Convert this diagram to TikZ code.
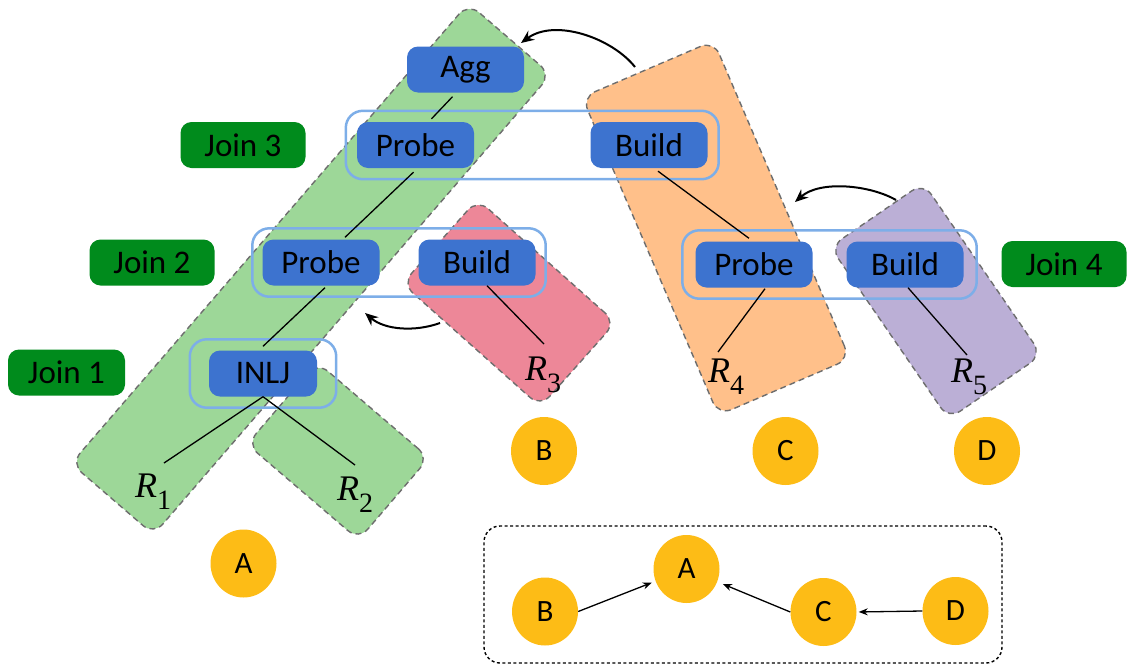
\documentclass[tikz,border=0pt]{standalone}
\usepackage{fontspec}
\setmainfont{Carlito}
\newfontfamily\relfont{Liberation Serif}
\usetikzlibrary{shapes.geometric,arrows.meta,fit,calc}
\definecolor{opblue}{RGB}{61,115,207}
\definecolor{grpline}{RGB}{125,174,232}
\definecolor{joingreen}{RGB}{0,139,28}
\definecolor{dagyellow}{RGB}{253,188,22}
\definecolor{regA}{RGB}{157,215,152}
\definecolor{regB}{RGB}{237,135,152}
\definecolor{regC}{RGB}{255,192,138}
\definecolor{regD}{RGB}{187,175,214}
\definecolor{regedge}{RGB}{110,110,110}
% relation name: italic R with a lowered upright index
\newcommand{\relname}[1]{{\relfont\itshape R}\raisebox{-12pt}{\fontsize{28}{30}\selectfont\relfont #1}}
\begin{document}
\begin{tikzpicture}[x=1pt,y=-1pt,
  region/.style={rectangle, draw=regedge, dash pattern=on 6pt off 4pt, line width=1.4pt, rounded corners=14pt, inner sep=0pt},
  op/.style={rectangle, fill=opblue, rounded corners=11pt, minimum width=117pt, minimum height=46pt, inner sep=0pt, font=\fontsize{33}{38}\selectfont},
  joinlbl/.style={rectangle, fill=joingreen, rounded corners=11pt, minimum width=125pt, minimum height=46pt, inner sep=0pt, font=\fontsize{33}{38}\selectfont},
  grp/.style={draw=grpline, line width=2.5pt, rounded corners=17pt, inner ysep=11pt},
  rel/.style={inner sep=0pt, anchor=base west, font=\fontsize{36}{42}\selectfont},
  dag/.style={ellipse, fill=dagyellow, minimum width=66pt, minimum height=68pt, inner sep=0pt, font=\fontsize{31}{36}\selectfont},
  tree/.style={line width=1.3pt},
  dep/.style={line width=2pt, -{Stealth[length=13pt,width=11pt]}},
  dagedge/.style={line width=1.3pt, -{Stealth[length=9pt,width=7pt]}}
]
\useasboundingbox (0,0) rectangle (1127,667);

% pipeline regions
\node[region, fill=regA, minimum width=147pt, minimum height=108pt, rotate=-40.6] (regA2) at (338,451) {};
\node[region, fill=regA, minimum width=608pt, minimum height=109pt, rotate=49.2] (regA1) at (311,269) {};
\node[region, fill=regB, minimum width=185pt, minimum height=113pt, rotate=-41.7] (regB) at (509,303) {};
\node[region, fill=regC, minimum width=346pt, minimum height=143pt, rotate=-66.8] (regC) at (716,228) {};
\node[region, fill=regD, minimum width=209pt, minimum height=113pt, rotate=-55.5] (regD) at (936,301) {};

% operators
\node[op] (agg) at (465.5,69.5) {Agg};
\node[op] (p3) at (415.5,145) {Probe};
\node[op] (b3) at (649,145) {Build};
\node[op] (p2) at (321,262.5) {Probe};
\node[op] (b2) at (477,262.5) {Build};
\node[op, minimum width=108pt] (inlj) at (263,373.5) {INLJ};
\node[op] (p4) at (754,264.5) {Probe};
\node[op] (b4) at (905,264.5) {Build};

% join groups
\node[grp, inner xsep=11pt, fit=(p3)(b3)] (g3) {};
\node[grp, inner xsep=10pt, fit=(p2)(b2)] (g2) {};
\node[grp, inner xsep=19pt, fit=(inlj)] (g1) {};
\node[grp, inner xsep=13pt, fit=(p4)(b4)] (g4) {};

% join labels
\node[joinlbl] (j3) at (243,145) {Join 3};
\node[joinlbl] (j2) at (152,262.5) {Join 2};
\node[joinlbl, minimum width=117pt] (j1) at (66.5,372.5) {Join 1};
\node[joinlbl] (j4) at (1064,264) {Join 4};

% relations
\node[rel] (r1) at (135,497) {\relname{1}};
\node[rel] (r2) at (337,500) {\relname{2}};
\node[rel] (r3) at (525,380) {\relname{3}};
\node[rel] (r4) at (708,382) {\relname{4}};
\node[rel] (r5) at (951,382) {\relname{5}};

% plan tree
\draw[tree] ($(agg.south)+(-13,4)$) -- ($(p3.north)+(16,-3)$);
\draw[tree] ($(p3.south)+(-2,4)$) -- ($(p2.north)+(24,-2)$);
\draw[tree] ($(p2.south)+(4,2)$) -- ($(inlj.north)+(0,-4)$);
\draw[tree] (inlj.south) -- ($(r1.base west)+(29,-34)$);
\draw[tree] (inlj.south) -- ($(r2.base west)+(18,-35)$);
\draw[tree] ($(b2.south)+(10,0)$) -- ($(r3.base west)+(19,-36)$);
\draw[tree] ($(b3.south)+(9,3)$) -- ($(p4.north)+(-5,-3)$);
\draw[tree] ($(p4.south)+(11,1)$) -- ($(r4.base west)+(10,-30)$);
\draw[tree] ($(b4.south)+(3,0)$) -- ($(r5.base west)+(16,-27)$);

% pipeline dependencies
\coordinate (cs) at (635,67);
\coordinate (ct) at (521,43);
\coordinate (bs) at (440,323);
\coordinate (bt) at (365,313);
\coordinate (ds) at (896,200);
\coordinate (dt) at (795,202);
\draw[dep] (cs) .. controls (612,38) and (555,18) .. (ct);
\draw[dep] (bs) .. controls (415,332) and (385,330) .. (bt);
\draw[dep] (ds) .. controls (870,185) and (820,180) .. (dt);

% pipeline ids
\node[dag] (pa) at (243.5,563.5) {A};
\node[dag] (pb) at (544,451) {B};
\node[dag] (pc) at (785.5,451) {C};
\node[dag] (pd) at (987,451) {D};

% dependency graph
\node[rectangle, draw, line width=1.4pt, dash pattern=on 3pt off 2.5pt, rounded corners=16pt, minimum width=518pt, minimum height=137pt] (dagbox) at (743,594.5) {};
\node[dag] (la) at (686.5,569) {A};
\node[dag] (lb) at (545,611.5) {B};
\node[dag] (lc) at (823.5,612) {C};
\node[dag] (ld) at (955.5,611) {D};
\draw[dagedge, shorten >=4pt] (lb.east) -- (la);
\draw[dagedge, shorten >=6pt] (lc.west) -- (la);
\draw[dagedge, shorten >=2pt] (ld.west) -- (lc.east);
\end{tikzpicture}
\end{document}
